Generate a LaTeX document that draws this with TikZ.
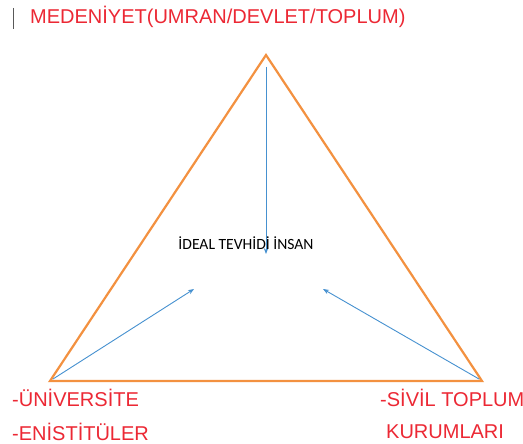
\documentclass[tikz,border=0pt]{standalone}
\usepackage{fontspec}
\usetikzlibrary{arrows.meta}
\setmainfont{Liberation Sans}
\newfontfamily\calib{Carlito}
\definecolor{tred}{RGB}{236,40,52}
\definecolor{torange}{RGB}{243,145,64}
\definecolor{tblue}{RGB}{70,145,208}
\begin{document}
\begin{tikzpicture}[x=1pt,y=-1pt,
  redlabel/.style={text=tred,font=\fontsize{20}{24}\selectfont,inner sep=0pt,anchor=west},
  tri/.style={draw=torange,line width=2.2pt,line join=miter},
  arr/.style={draw=tblue,line width=0.9pt,-{Stealth[length=6pt,width=4.5pt]}}]
\useasboundingbox (0,0) rectangle (523,444);
\fill[white] (0,0) rectangle (523,444);
\coordinate (A) at (266,55);
\coordinate (B) at (50,381);
\coordinate (C) at (482,381);
\draw[tri] (A) -- (B) -- (C) -- cycle;
\coordinate (a0) at (266,67);
\coordinate (a1) at (266,254);
\coordinate (b0) at (53,379);
\coordinate (b1) at (194,289);
\coordinate (c0) at (479,379);
\coordinate (c1) at (323,289);
\draw[arr] (a0) -- (a1);
\draw[arr] (b0) -- (b1);
\draw[arr] (c0) -- (c1);
\node[font=\calib\fontsize{15.6}{18}\selectfont,inner sep=0pt] (center) at (246,243) {İDEAL TEVHİDİ İNSAN};
\coordinate (cur0) at (13,8);
\coordinate (cur1) at (13,29);
\draw[gray!70!black,line width=1pt] (cur0) -- (cur1);
\node[redlabel] (title) at (30,17) {MEDENİYET(UMRAN/DEVLET/TOPLUM)};
\node[redlabel] (uni) at (12,398) {-ÜNİVERSİTE};
\node[redlabel] (ens) at (12,432) {-ENİSTİTÜLER};
\node[redlabel] (stk) at (380,398) {-SİVİL TOPLUM};
\node[redlabel] (kur) at (386,432) {KURUMLARI};
\end{tikzpicture}
\end{document}
